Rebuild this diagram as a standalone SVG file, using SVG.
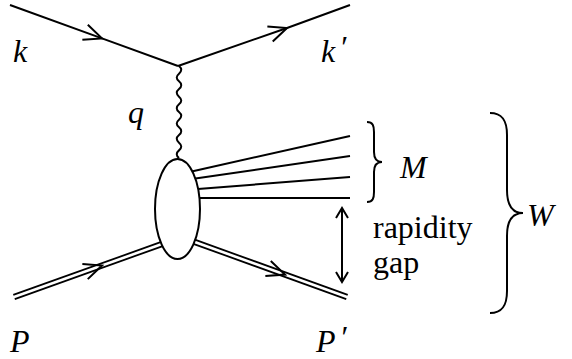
<svg xmlns="http://www.w3.org/2000/svg" width="572" height="359" viewBox="0 0 572 359">
<style>
.ln{fill:none;stroke:#000;stroke-width:2}
.ln2{fill:none;stroke:#000;stroke-width:1.8}
text{font-family:"Liberation Serif","Times New Roman",Times,"Nimbus Roman","Nimbus Roman No9 L",Tinos,"DejaVu Serif","Noto Serif",FreeSerif,serif}
.lab{font-size:32px;font-style:italic;fill:#000}
.txt{font-size:32px;fill:#000}
</style>
<defs>
<marker id="arr" markerUnits="userSpaceOnUse" viewBox="-20 -10 22 20" refX="0" refY="0" markerWidth="22" markerHeight="20" orient="auto" overflow="visible">
<path d="M-18,-8 L0,0 L-18,8" fill="none" stroke="#000" stroke-width="2"/>
</marker>
<marker id="tip" markerUnits="userSpaceOnUse" viewBox="-12 -7 14 14" refX="0" refY="0" markerWidth="14" markerHeight="14" orient="auto-start-reverse" overflow="visible">
<path d="M-10,-6 L0,0 L-10,6" fill="none" stroke="#000" stroke-width="2"/>
</marker>
</defs>
<g id="connectors">
<path id="e-in" class="ln" d="M10,5 L102,38.4 L178,66" marker-mid="url(#arr)"/>
<path id="e-out" class="ln" d="M178,66 L287,28 L350,5" marker-mid="url(#arr)"/>
<path id="photon" class="ln" d="M179,66 q4.5,3.83 0,7.67 t0,7.67 t0,7.67 t0,7.67 t0,7.67 t0,7.67 t0,7.67 t0,7.67 t0,7.67 t0,7.67 t0,7.67 t0,7.67"/>
<g id="p-in">
<path class="ln2" d="M13.26,294.93 L161.26,241.93"/>
<path class="ln2" d="M14.74,299.07 L162.74,246.07"/>
<path fill="none" stroke="none" d="M14,297 L102,265.5 L162,244" marker-mid="url(#arr)"/>
</g>
<g id="p-out">
<path class="ln2" d="M192.75,238.93 L347.75,294.93"/>
<path class="ln2" d="M191.25,243.07 L346.25,299.07"/>
<path fill="none" stroke="none" d="M192,241 L285,274.6 L347,297" marker-mid="url(#arr)"/>
</g>
<path id="h1" class="ln" d="M185,173 L350,136"/>
<path id="h2" class="ln" d="M185,180 L350,156"/>
<path id="h3" class="ln" d="M185,190 L350,177"/>
<path id="h4" class="ln" d="M185,198 L350,198"/>
<path id="gap-arrow" class="ln" d="M342,208 L342,282" marker-start="url(#tip)" marker-end="url(#tip)"/>
</g>
<g id="blob"><ellipse cx="177.5" cy="209" rx="22.5" ry="50" fill="#fff" stroke="#000" stroke-width="2"/></g>
<g id="brace-M"><path class="ln" d="M367,122 C373,122 374,126 374,132 L374,152 C374,158 376,162 382,162 C376,162 374,166 374,172 L374,192 C374,198 373,202 367,202"/></g>
<g id="brace-W"><path class="ln" d="M490,113 C502,113 507,120 507,135 L507,190 C507,205 512,213 523,213 C512,213 507,221 507,236 L507,291 C507,306 502,313 490,313"/></g>
<g id="labels">
<text class="lab" x="13" y="62">k</text>
<text class="lab" x="321" y="62">k<tspan dx="4" dy="-4">′</tspan></text>
<text class="lab" x="128" y="123">q</text>
<text class="lab" x="400" y="178">M</text>
<text class="lab" x="527" y="226">W</text>
<text class="txt" x="373" y="238">rapidity</text>
<text class="txt" x="373" y="273">gap</text>
<text class="lab" x="10" y="352">P</text>
<text class="lab" x="316" y="352">P<tspan dx="4" dy="-4">′</tspan></text>
</g>
</svg>
